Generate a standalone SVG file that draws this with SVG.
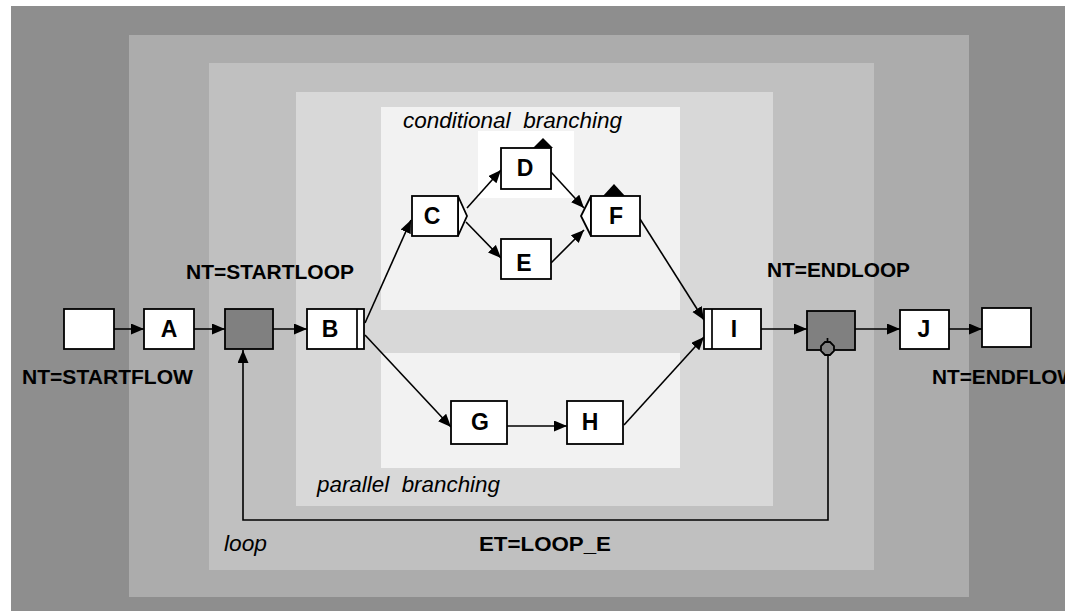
<svg xmlns="http://www.w3.org/2000/svg" width="1065" height="611" viewBox="0 0 1065 611">
  <style>
    .box { fill: #ffffff; stroke: #000000; stroke-width: 1.8; }
    .dark { fill: #808080; stroke: #000000; stroke-width: 1.8; }
    .edge { fill: none; stroke: #000000; stroke-width: 1.7; }
    .arrow { fill: none; stroke: #000000; stroke-width: 1.6; marker-end: url(#head); }
    .letter { font-family: "Liberation Sans", Arial, sans-serif; font-weight: bold; font-size: 23px; text-anchor: middle; fill: #000000; }
    .tag { font-family: "Liberation Sans", Arial, sans-serif; font-weight: bold; font-size: 19.5px; fill: #000000; }
    .note { font-family: "Liberation Sans", Arial, sans-serif; font-style: italic; font-size: 22px; fill: #000000; }
  </style>
  <defs>
    <marker id="head" markerUnits="userSpaceOnUse" markerWidth="14" markerHeight="12" refX="13" refY="5.5" orient="auto">
      <path d="M0,0 L13,5.5 L0,11 z" fill="#000000"/>
    </marker>
  </defs>

  <rect width="1065" height="611" fill="#ffffff"/>

  <!-- nested scopes: flow, loop, parallel split, conditional split -->
  <g id="scopes">
    <rect x="11" y="6" width="1054" height="605" fill="#8e8e8e"/>
    <rect x="129" y="35" width="840" height="562" fill="#acacac"/>
    <rect x="209" y="63" width="665" height="507" fill="#c0c0c0"/>
    <rect x="296" y="92" width="477" height="414" fill="#d8d8d8"/>
    <rect x="381" y="107" width="299" height="203" fill="#f2f2f2"/>
    <rect x="381" y="353" width="299" height="115" fill="#f2f2f2"/>
    <rect x="478" y="131" width="96" height="67" fill="#ffffff"/>
  </g>

  <g id="labels">
    <text class="note" x="403" y="128" textLength="219" lengthAdjust="spacingAndGlyphs" xml:space="preserve">conditional  branching</text>
    <text class="note" x="317" y="492" textLength="183" lengthAdjust="spacingAndGlyphs" xml:space="preserve">parallel  branching</text>
    <text class="note" x="224" y="551" textLength="43" lengthAdjust="spacingAndGlyphs">loop</text>
    <text class="tag" x="479" y="551" textLength="132" lengthAdjust="spacingAndGlyphs">ET=LOOP_E</text>
    <text class="tag" x="186" y="279" textLength="168" lengthAdjust="spacingAndGlyphs">NT=STARTLOOP</text>
    <text class="tag" x="22" y="384" textLength="171" lengthAdjust="spacingAndGlyphs">NT=STARTFLOW</text>
    <text class="tag" x="767" y="277" textLength="143" lengthAdjust="spacingAndGlyphs">NT=ENDLOOP</text>
    <text class="tag" x="932" y="384" textLength="145" lengthAdjust="spacingAndGlyphs">NT=ENDFLOW</text>
  </g>

  <g id="connectors">
    <line class="arrow" x1="114" y1="329" x2="144" y2="329"/>
    <line class="arrow" x1="194" y1="329" x2="225" y2="329"/>
    <line class="arrow" x1="273" y1="329" x2="307" y2="329"/>
    <line class="arrow" x1="365" y1="323" x2="411" y2="220"/>
    <line class="arrow" x1="365" y1="335" x2="451" y2="427"/>
    <line class="arrow" x1="467" y1="208" x2="501" y2="170"/>
    <line class="arrow" x1="466" y1="222" x2="501" y2="258"/>
    <line class="arrow" x1="551" y1="172" x2="584" y2="208"/>
    <line class="arrow" x1="551" y1="263" x2="584" y2="230"/>
    <line class="arrow" x1="640" y1="219" x2="704" y2="320"/>
    <line class="arrow" x1="507" y1="426" x2="567" y2="426"/>
    <line class="arrow" x1="624" y1="425" x2="704" y2="337"/>
    <line class="arrow" x1="761" y1="329" x2="807" y2="329"/>
    <line class="arrow" x1="855" y1="329" x2="900" y2="329"/>
    <line class="arrow" x1="949" y1="329" x2="982" y2="329"/>
    <path class="arrow" d="M828,356 V520 H243 V350"/>
  </g>

  <g id="start">
    <rect class="box" x="64" y="309" width="50" height="40"/>
  </g>
  <g id="A">
    <rect class="box" x="144" y="309" width="50" height="40"/>
    <text class="letter" x="169" y="337">A</text>
  </g>
  <g id="startloop">
    <rect class="dark" x="225" y="309" width="48" height="40"/>
  </g>
  <g id="B">
    <rect class="box" x="307" y="309" width="57" height="40"/>
    <line class="edge" x1="357" y1="309" x2="357" y2="349"/>
    <text class="letter" x="330" y="337">B</text>
  </g>
  <g id="C">
    <polygon class="box" points="458,196 467,216 458,236"/>
    <rect class="box" x="412" y="196" width="46" height="40"/>
    <text class="letter" x="432" y="224">C</text>
  </g>
  <g id="D">
    <rect class="box" x="501" y="148" width="50" height="41"/>
    <polygon points="533,148 543,138 553,148" fill="#000000"/>
    <text class="letter" x="525" y="176">D</text>
  </g>
  <g id="E">
    <rect class="box" x="501" y="239" width="50" height="40"/>
    <text class="letter" x="524" y="271">E</text>
  </g>
  <g id="F">
    <polygon class="box" points="591,196 581,216 591,236"/>
    <rect class="box" x="591" y="196" width="49" height="40"/>
    <polygon points="603,196 614,184 625,196" fill="#000000"/>
    <text class="letter" x="616" y="224">F</text>
  </g>
  <g id="G">
    <rect class="box" x="451" y="401" width="56" height="43"/>
    <text class="letter" x="480" y="430">G</text>
  </g>
  <g id="H">
    <rect class="box" x="567" y="401" width="56" height="43"/>
    <text class="letter" x="590" y="430">H</text>
  </g>
  <g id="I">
    <rect class="box" x="704" y="309" width="57" height="40"/>
    <line class="edge" x1="712" y1="309" x2="712" y2="349"/>
    <text class="letter" x="734" y="337">I</text>
  </g>
  <g id="endloop">
    <rect class="dark" x="807" y="311" width="48" height="39"/>
    <polygon class="dark" points="825,342 830,342 834,346 834,351 830,355 825,355 821,351 821,346"/>
    <line class="edge" x1="827.5" y1="338" x2="827.5" y2="342"/>
  </g>
  <g id="J">
    <rect class="box" x="900" y="310" width="49" height="39"/>
    <text class="letter" x="924" y="337">J</text>
  </g>
  <g id="end">
    <rect class="box" x="982" y="308" width="49" height="39"/>
  </g>
</svg>
